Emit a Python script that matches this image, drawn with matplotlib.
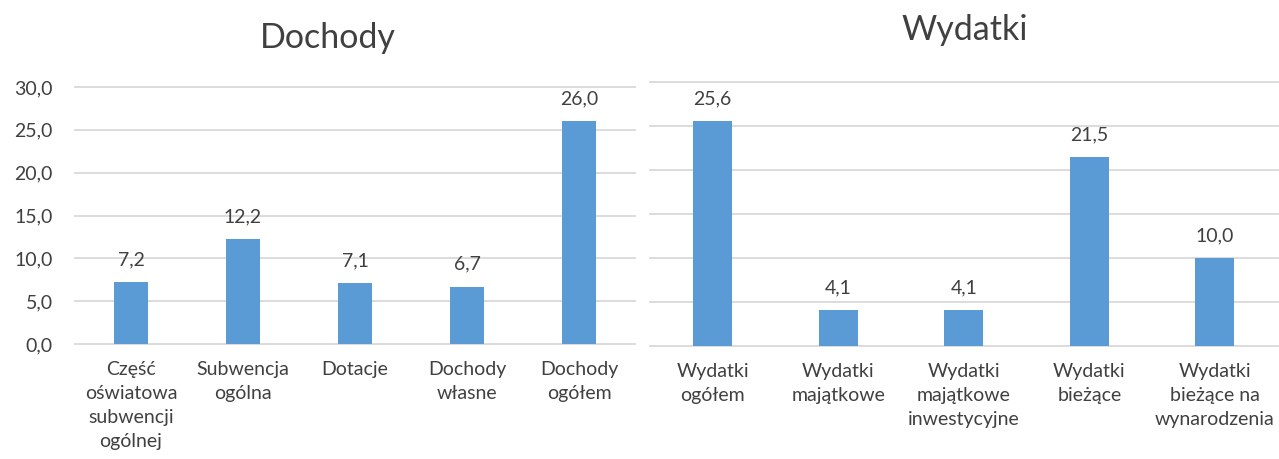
import numpy as np
import matplotlib.pyplot as plt

plt.rcParams['font.family'] = ['Lato', 'DejaVu Sans']

# Dochody
inc_labels = ["Część\noświatowa\nsubwencji\nogólnej", "Subwencja\nogólna", "Dotacje",
              "Dochody\nwłasne", "Dochody\nogółem"]
inc_values = [7.2, 12.2, 7.1, 6.7, 26.0]

# Wydatki
exp_labels = ["Wydatki\nogółem", "Wydatki\nmajątkowe", "Wydatki\nmajątkowe\ninwestycyjne",
              "Wydatki\nbieżące", "Wydatki\nbieżące na\nwynarodzenia"]
exp_values = [25.6, 4.1, 4.1, 21.5, 10.0]

yticks = [0, 5, 10, 15, 20, 25, 30]

BAR = "#5B9BD5"
TXT = "#404040"
GRID = "#D9D9D9"

fig = plt.figure(figsize=(12.79, 4.59), dpi=100)
ax1 = fig.add_axes([0.0586, 0.2505, 0.438, 0.56])
ax2 = fig.add_axes([0.508, 0.246, 0.491, 0.575])

def fmt(v):
    return f"{v:.1f}".replace(".", ",")

def draw(ax, labels, values, show_y):
    x = np.arange(len(values))
    ax.bar(x, values, width=0.31, color=BAR, zorder=3)
    for xi, v in zip(x, values):
        ax.annotate(fmt(v), (xi, v), xytext=(0, 10), textcoords="offset points",
                    ha="center", va="bottom", fontsize=14, color=TXT)
    ax.set_xlim(-0.5, len(values) - 0.5)
    ax.set_ylim(0, 30)
    ax.set_yticks(yticks)
    for t in yticks:
        ax.axhline(t, color=GRID, lw=1.3, zorder=1, clip_on=False)
    ax.set_xticks(x)
    ax.set_xticklabels(labels, fontsize=14, color=TXT, linespacing=1.5, va="top")
    if show_y:
        ax.set_yticklabels([fmt(t) for t in yticks], fontsize=14, color=TXT)
    else:
        ax.set_yticklabels([])
    ax.tick_params(axis="both", length=0)
    ax.tick_params(axis="y", pad=16)
    ax.tick_params(axis="x", pad=12)
    for s in ax.spines.values():
        s.set_visible(False)

draw(ax1, inc_labels, inc_values, True)
draw(ax2, exp_labels, exp_values, False)

fig.text(328 / 1279, 1 - 48 / 459, "Dochody", fontsize=24.5, color=TXT,
         ha="center", va="baseline")
fig.text(965 / 1279, 1 - 40 / 459, "Wydatki", fontsize=24.5, color=TXT,
         ha="center", va="baseline")

fig.savefig("out.png", dpi=100)
